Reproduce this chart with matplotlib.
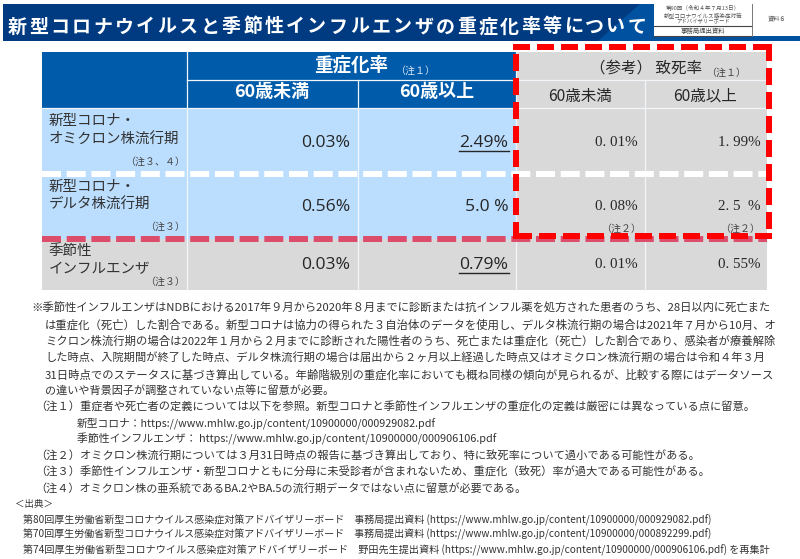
import matplotlib
matplotlib.use('Agg')
import matplotlib.pyplot as plt
from matplotlib.patches import Rectangle, Polygon

plt.rcParams['font.family'] = ['Noto Sans CJK JP', 'DejaVu Sans']

title = '新型コロナウイルスと季節性インフルエンザの重症化率等について'
row_labels = [['新型コロナ・', 'オミクロン株流行期'], ['新型コロナ・', 'デルタ株流行期'], ['季節性', 'インフルエンザ']]
row_notes = ['（注３、４）', '（注３）', '（注３）']
severe_under60 = ['0.03%', '0.56%', '0.03%']
severe_over60 = ['2.49%', '5.0 %', '0.79%']
death_under60 = ['0. 01%', '0. 08%', '0. 01%']
death_over60 = ['1. 99%', '2. 5  %', '0. 55%']
age_under = '60歳未満'
age_over = '60歳以上'
notes = [
    '※季節性インフルエンザはNDBにおける2017年９月から2020年８月までに診断または抗インフル薬を処方された患者のうち、28日以内に死亡また',
    'は重症化（死亡）した割合である。新型コロナは協力の得られた３自治体のデータを使用し、デルタ株流行期の場合は2021年７月から10月、オ',
    'ミクロン株流行期の場合は2022年１月から２月までに診断された陽性者のうち、死亡または重症化（死亡）した割合であり、感染者が療養解除',
    'した時点、入院期間が終了した時点、デルタ株流行期の場合は届出から２ヶ月以上経過した時点又はオミクロン株流行期の場合は令和４年３月',
    '31日時点でのステータスに基づき算出している。年齢階級別の重症化率においても概ね同様の傾向が見られるが、比較する際にはデータソース',
    'の違いや背景因子が調整されていない点等に留意が必要。',
    '（注１）重症者や死亡者の定義については以下を参照。新型コロナと季節性インフルエンザの重症化の定義は厳密には異なっている点に留意。',
    '新型コロナ：https://www.mhlw.go.jp/content/10900000/000929082.pdf',
    '季節性インフルエンザ： https://www.mhlw.go.jp/content/10900000/000906106.pdf',
    '（注２）オミクロン株流行期については３月31日時点の報告に基づき算出しており、特に致死率について過小である可能性がある。',
    '（注３）季節性インフルエンザ・新型コロナともに分母に未受診者が含まれないため、重症化（致死）率が過大である可能性がある。',
    '（注４）オミクロン株の亜系統であるBA.2やBA.5の流行期データではない点に留意が必要である。',
    '＜出典＞',
    '第80回厚生労働省新型コロナウイルス感染症対策アドバイザリーボード　事務局提出資料 (https://www.mhlw.go.jp/content/10900000/000929082.pdf)',
    '第70回厚生労働省新型コロナウイルス感染症対策アドバイザリーボード　事務局提出資料 (https://www.mhlw.go.jp/content/10900000/000892299.pdf)',
    '第74回厚生労働省新型コロナウイルス感染症対策アドバイザリーボード　野田先生提出資料 (https://www.mhlw.go.jp/content/10900000/000906106.pdf) を再集計',
]

# layout in picture pixels
note_x0 = [31, 45, 45, 45, 45, 45, 35, 77, 77, 35, 35, 35, 15, 23, 23, 23]
note_x1 = [774, 775, 773, 763, 772, 333, 753, 438, 498, 697, 707, 525, 53, 713, 713, 768]
note_y = [308, 324.5, 341, 358, 374.5, 390.5, 407, 423.5, 439, 455.5, 472, 488, 505, 520, 534, 550]
col_x = [41.5, 186.5, 357.5, 515.5, 644.5, 767]
row_y = [52, 79.5, 108, 173.5, 238.5, 290]
val_y = [143, 207, 265]
HEAD = '#005BAB'
LIGHT = '#BBDEFF'
GREY = '#D9D9D9'
INK = '#262626'

fig = plt.figure(figsize=(8, 5.59), dpi=100)
ax = fig.add_axes([0, 0, 1, 1])
ax.set_xlim(0, 800)
ax.set_ylim(559, 0)
ax.axis('off')
renderer = fig.canvas.get_renderer()


def box(x0, y0, x1, y1, color, z=1):
    ax.add_patch(Rectangle((x0, y0), x1 - x0, y1 - y0, facecolor=color, edgecolor='none', zorder=z))


def put(x, y, s, px=13, x_end=None, ha='left', color=INK, **kw):
    t = ax.text(x, y, s, fontsize=px * 0.72, ha=ha, va='center', color=color, zorder=6, **kw)
    if x_end is not None:
        # scale the font so the line ends where it should
        w = t.get_window_extent(renderer).width
        t.set_fontsize(t.get_fontsize() * (x_end - x) / w)
    return t


def dashed(xs, ys, color, dash, gap, lw_px=6, z=4):
    ax.plot(xs, ys, color=color, lw=lw_px * 0.72, linestyle=(0, (dash / lw_px, gap / lw_px)),
            dash_capstyle='butt', zorder=z)


# title bar
box(3, 4, 800, 41, '#003B82')
ax.add_patch(Polygon([[640, 4], [660, 4], [660, 36], [800, 36], [800, 41], [598, 41]],
                     facecolor='#0052A0', edgecolor='none', zorder=1))
for i, ch in enumerate(title):
    put(17.5 + i * 21.37, 27, ch, px=19, ha='center', color='white', fontweight='bold')

# meeting box, top right
box(654, 4, 800, 36, 'white', z=2)
ax.plot([654, 752], [26, 26], color='#444444', lw=0.8, zorder=3)
ax.plot([654, 752], [36, 36], color='#444444', lw=0.8, zorder=3)
ax.plot([752, 752], [4, 36], color='#777777', lw=0.7, zorder=3)
put(703, 7.5, '第90回（令和４年７月13日）', px=5.6, ha='center', color='#555555')
put(703, 15, '新型コロナウイルス感染症対策', px=5.6, ha='center', color='#555555')
put(703, 21.5, 'アドバイザリーボード', px=5.4, ha='center', color='#555555')
put(703, 31, '事務局提出資料', px=6.4, ha='center', color='#444444')
put(777, 19, '資料６', px=6.2, ha='center', color='#555555')

# table cells
box(col_x[0], row_y[0], col_x[3], row_y[2], HEAD)
box(col_x[0], row_y[2], col_x[3], row_y[4], LIGHT)
box(col_x[0], row_y[4], col_x[5], row_y[5], GREY)
box(col_x[3], row_y[0], col_x[5], row_y[5], GREY)

# grid
grid = dict(color='#F2F6FA', lw=0.9, zorder=2)
ax.plot([col_x[1], col_x[1]], [row_y[0], row_y[5]], **grid)
ax.plot([col_x[3], col_x[3]], [row_y[0], row_y[5]], **grid)
ax.plot([col_x[2], col_x[2]], [row_y[1], row_y[5]], **grid)
ax.plot([col_x[4], col_x[4]], [row_y[1], row_y[5]], **grid)
ax.plot([col_x[1], col_x[5]], [row_y[1], row_y[1]], **grid)
ax.plot([col_x[0], col_x[5]], [row_y[2], row_y[2]], **grid)

# header text
put(351, 65, '重症化率', px=18.5, ha='center', color='white', fontweight='bold')
put(415, 71, '（注１）', px=10, ha='center', color='#DDE8F5')
put(272, 92, age_under, px=18, ha='center', color='white', fontweight='bold')
put(437, 92, age_over, px=18, ha='center', color='white', fontweight='bold')
put(646, 68, '（参考） 致死率', px=15.5, ha='center')
put(726, 73, '（注１）', px=10, ha='center', color='#444444')
put(580, 96, age_under, px=15.5, ha='center')
put(705.5, 96, age_over, px=15.5, ha='center')

# row labels
label_y = [(121, 140), (187, 205), (251, 269)]
note_ys = [162, 227, 282]
for lines, ys, nt, ny in zip(row_labels, label_y, row_notes, note_ys):
    put(49, ys[0], lines[0], px=14.5, color='#333333')
    put(49, ys[1], lines[1], px=14.5, color='#333333')
    put(185, ny, nt, px=10, ha='right', color='#444444')

# values
for i in range(3):
    put(350, val_y[i], severe_under60[i], px=17.5, ha='right', fontfamily='Open Sans')
    put(508.5, val_y[i], severe_over60[i], px=17.5, ha='right', fontfamily='Open Sans')
    put(637.5, val_y[i], death_under60[i], px=15, ha='right', fontfamily='Liberation Serif')
    put(761, val_y[i], death_over60[i], px=15, ha='right', fontfamily='Liberation Serif')
ax.plot([459, 508.5], [150.5, 150.5], color=INK, lw=1, zorder=6)
ax.plot([459, 508.5], [273, 273], color=INK, lw=1, zorder=6)
put(641, 229, '（注２）', px=10, ha='right', color='#444444')
put(760, 229, '（注２）', px=10, ha='right', color='#444444')

# row separators and the red frame
dashed([col_x[0], col_x[5]], [row_y[3], row_y[3]], 'white', 19, 5.7)
dashed([col_x[0], col_x[5]], [row_y[4], row_y[4]], '#DC4D6C', 19, 5.7)
dashed([513, 772], [47, 47], '#FF0000', 17, 7, z=5)
dashed([769, 769], [44, 239], '#FF0000', 17, 7, z=5)
dashed([772, 513], [236, 236], '#FF0000', 17, 7, z=5)
dashed([516, 516], [239, 44], '#FF0000', 17, 7, z=5)

# notes
for s, x0, x1, y in zip(notes, note_x0, note_x1, note_y):
    put(x0, y, s, x_end=x1, color='#333333')

fig.savefig('out.png', dpi=100)
